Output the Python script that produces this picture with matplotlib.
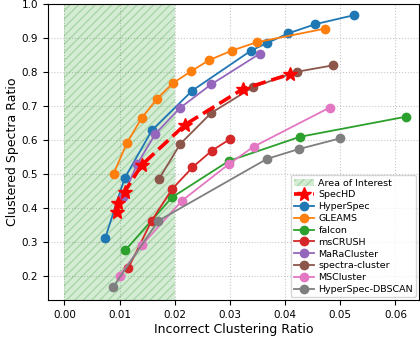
import matplotlib
matplotlib.use("Agg")
import matplotlib.pyplot as plt

# incorrect clustering ratio (x) / clustered spectra ratio (y) per tool
spechd_x = [0.0095, 0.0098, 0.0109, 0.0140, 0.0219, 0.0323, 0.0409]
spechd_y = [0.389, 0.414, 0.448, 0.527, 0.646, 0.750, 0.794]

hyperspec_x = [0.0074, 0.0109, 0.0159, 0.0232, 0.0338, 0.0368, 0.0406, 0.0455, 0.0524]
hyperspec_y = [0.313, 0.488, 0.630, 0.746, 0.863, 0.886, 0.914, 0.941, 0.967]

gleams_x = [0.0089, 0.0113, 0.0140, 0.0168, 0.0197, 0.0229, 0.0262, 0.0303, 0.0349, 0.0473]
gleams_y = [0.501, 0.591, 0.665, 0.722, 0.768, 0.802, 0.835, 0.863, 0.888, 0.928]

falcon_x = [0.0110, 0.0195, 0.0298, 0.0427, 0.0619]
falcon_y = [0.276, 0.432, 0.539, 0.610, 0.669]

mscrush_x = [0.0116, 0.0158, 0.0195, 0.0232, 0.0267, 0.0301]
mscrush_y = [0.225, 0.363, 0.456, 0.520, 0.569, 0.604]

maracluster_x = [0.0106, 0.0132, 0.0165, 0.0209, 0.0266, 0.0354]
maracluster_y = [0.433, 0.530, 0.619, 0.694, 0.764, 0.854]

spectracluster_x = [0.0171, 0.0210, 0.0266, 0.0342, 0.0421, 0.0487]
spectracluster_y = [0.485, 0.589, 0.680, 0.756, 0.801, 0.820]

mscluster_x = [0.0100, 0.0141, 0.0213, 0.0299, 0.0343, 0.0481]
mscluster_y = [0.202, 0.293, 0.422, 0.531, 0.581, 0.696]

dbscan_x = [0.0088, 0.0170, 0.0367, 0.0425, 0.0499]
dbscan_y = [0.168, 0.363, 0.545, 0.574, 0.605]

others = [
    ("HyperSpec", hyperspec_x, hyperspec_y, "tab:blue"),
    ("GLEAMS", gleams_x, gleams_y, "tab:orange"),
    ("falcon", falcon_x, falcon_y, "tab:green"),
    ("msCRUSH", mscrush_x, mscrush_y, "tab:red"),
    ("MaRaCluster", maracluster_x, maracluster_y, "tab:purple"),
    ("spectra-cluster", spectracluster_x, spectracluster_y, "tab:brown"),
    ("MSCluster", mscluster_x, mscluster_y, "tab:pink"),
    ("HyperSpec-DBSCAN", dbscan_x, dbscan_y, "tab:gray"),
]

fig = plt.figure(figsize=(4.2, 3.38), dpi=100)
ax = fig.add_axes([0.114, 0.112, 0.884, 0.876])

ax.axvspan(0, 0.02, facecolor="tab:green", edgecolor="green", alpha=0.2,
           hatch="////", linewidth=0, label="Area of Interest")

ax.plot(spechd_x, spechd_y, color="red", linestyle="--", linewidth=2.6,
        marker="*", markersize=10, label="SpecHD", zorder=5)

for name, xs, ys, col in others:
    ax.plot(xs, ys, color=col, marker="o", markersize=6, linewidth=1.3, label=name)

ax.set_xlim(-0.003, 0.0643)
ax.set_ylim(0.13, 1.0)
ax.set_xticks([0.0, 0.01, 0.02, 0.03, 0.04, 0.05, 0.06])
ax.set_yticks([0.2, 0.3, 0.4, 0.5, 0.6, 0.7, 0.8, 0.9, 1.0])
ax.tick_params(labelsize=7.5)
ax.grid(True, linestyle=":", color="#c8c8c8", linewidth=0.8)
ax.set_axisbelow(True)

ax.set_xlabel("Incorrect Clustering Ratio", fontsize=9, labelpad=2)
ax.set_ylabel("Clustered Spectra Ratio", fontsize=9, labelpad=2)

ax.legend(loc="lower right", fontsize=6.8, handlelength=2.1, handletextpad=0.5,
          labelspacing=0.3, borderpad=0.35, borderaxespad=0.3)

fig.savefig("out.png", dpi=100)
